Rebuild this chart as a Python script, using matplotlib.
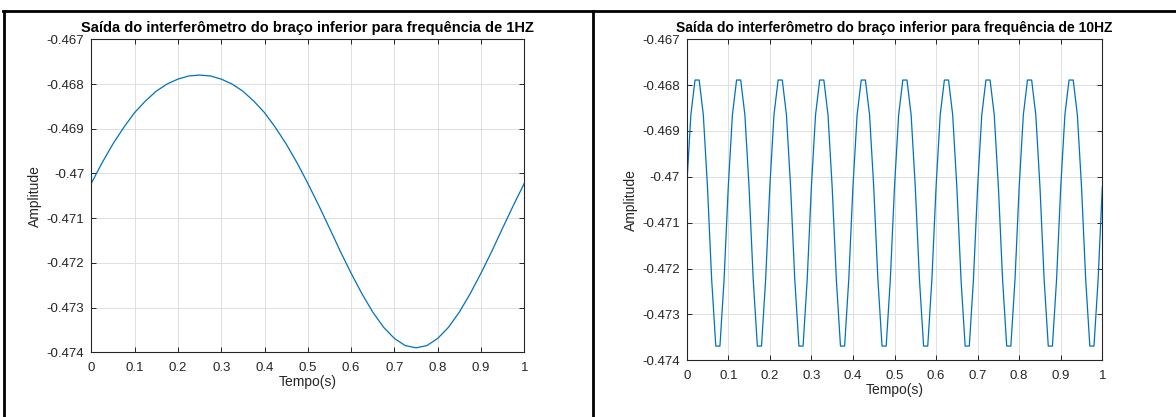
"""Interferometer output of the lower arm at 1 Hz and 10 Hz
"""

import matplotlib
matplotlib.use("Agg")
import matplotlib.pyplot as plt
from matplotlib.lines import Line2D
import numpy as np

# Values
# 1 Hz: one value every 0.025 s
amp_1hz = [
    -0.47022, -0.46976, -0.46934, -0.46897, -0.46864, -0.46838, -0.46816,
    -0.46800, -0.46789, -0.46782, -0.46780, -0.46782, -0.46789, -0.46800,
    -0.46816, -0.46838, -0.46864, -0.46897, -0.46934, -0.46976, -0.47022,
    -0.47071, -0.47122, -0.47174, -0.47223, -0.47269, -0.47310, -0.47344,
    -0.47369, -0.47385, -0.47390, -0.47385, -0.47369, -0.47344, -0.47310,
    -0.47269, -0.47223, -0.47174, -0.47122, -0.47071, -0.47022,
]
# 10 Hz: one value every 0.01 s (coarse sampling gives the flat tops)
amp_10hz = [
    -0.47022, -0.46865, -0.46789, -0.46789, -0.46865, -0.47022, -0.47223, -0.47369, -0.47369, -0.47223,
    -0.47022, -0.46865, -0.46789, -0.46789, -0.46865, -0.47022, -0.47223, -0.47369, -0.47369, -0.47223,
    -0.47022, -0.46865, -0.46789, -0.46789, -0.46865, -0.47022, -0.47223, -0.47369, -0.47369, -0.47223,
    -0.47022, -0.46865, -0.46789, -0.46789, -0.46865, -0.47022, -0.47223, -0.47369, -0.47369, -0.47223,
    -0.47022, -0.46865, -0.46789, -0.46789, -0.46865, -0.47022, -0.47223, -0.47369, -0.47369, -0.47223,
    -0.47022, -0.46865, -0.46789, -0.46789, -0.46865, -0.47022, -0.47223, -0.47369, -0.47369, -0.47223,
    -0.47022, -0.46865, -0.46789, -0.46789, -0.46865, -0.47022, -0.47223, -0.47369, -0.47369, -0.47223,
    -0.47022, -0.46865, -0.46789, -0.46789, -0.46865, -0.47022, -0.47223, -0.47369, -0.47369, -0.47223,
    -0.47022, -0.46865, -0.46789, -0.46789, -0.46865, -0.47022, -0.47223, -0.47369, -0.47369, -0.47223,
    -0.47022, -0.46865, -0.46789, -0.46789, -0.46865, -0.47022, -0.47223, -0.47369, -0.47369, -0.47223,
    -0.47022,
]
# sample times (regular grids over 0..1 s)
time_1hz = np.linspace(0, 1, len(amp_1hz))
time_10hz = np.linspace(0, 1, len(amp_10hz))

titles = [
    "Saída do interferômetro do braço inferior para frequência de 1HZ",
    "Saída do interferômetro do braço inferior para frequência de 10HZ",
]
x_ticks = [0, 0.1, 0.2, 0.3, 0.4, 0.5, 0.6, 0.7, 0.8, 0.9, 1]
x_tick_labels = ["0", "0.1", "0.2", "0.3", "0.4", "0.5", "0.6", "0.7", "0.8", "0.9", "1"]
y_ticks = [-0.474, -0.473, -0.472, -0.471, -0.47, -0.469, -0.468, -0.467]
y_tick_labels = ["-0.474", "-0.473", "-0.472", "-0.471", "-0.47", "-0.469", "-0.468", "-0.467"]

plt.rcParams['font.family'] = ['Liberation Sans', 'DejaVu Sans']

W, H = 1176, 417
fig = plt.figure(figsize=(W / 100, H / 100), dpi=100)


def px_axes(x0, y0, x1, y1):
    """Axes from pixel box (top-left origin)"""
    return fig.add_axes([x0 / W, 1 - y1 / H, (x1 - x0) / W, (y1 - y0) / H])


def style_axes(ax, title, title_size):
    ax.set_xlim(0, 1)
    ax.set_ylim(-0.474, -0.467)
    ax.set_xticks(x_ticks)
    ax.set_xticklabels(x_tick_labels)
    ax.set_yticks(y_ticks)
    ax.set_yticklabels(y_tick_labels)
    ax.tick_params(direction='in', length=3.5, width=0.7, colors='#262626',
                   labelsize=9.5, top=True, right=True)
    ax.tick_params(axis='x', pad=7)
    ax.tick_params(axis='y', pad=5)
    for sp in ax.spines.values():
        sp.set_color('#262626')
        sp.set_linewidth(0.8)
    ax.grid(True, color='#dfdfdf', linewidth=0.7)
    ax.set_axisbelow(True)
    ax.set_title(title, fontsize=title_size, fontweight='bold', pad=5)
    ax.set_xlabel("Tempo(s)", fontsize=10, color='#262626', labelpad=1)
    ax.set_ylabel("Amplitude", fontsize=10, color='#262626', labelpad=3)


ax1 = px_axes(91.3, 39.3, 524.3, 352.3)
ax1.plot(time_1hz, amp_1hz, color='#0072BD', linewidth=0.9)
style_axes(ax1, titles[0], 10.5)

ax2 = px_axes(686.7, 39.2, 1102.3, 360.3)
ax2.plot(time_10hz, amp_10hz, color='#0072BD', linewidth=0.9)
style_axes(ax2, titles[1], 10)

# frame lines around the panels
frame_kw = dict(color='black', linewidth=2.0, transform=fig.transFigure)
fig.add_artist(Line2D([3 / W, 1], [1 - 10.5 / H, 1 - 10.5 / H], **frame_kw))
fig.add_artist(Line2D([4.3 / W, 4.3 / W], [0, 1 - 10.5 / H], **frame_kw))
fig.add_artist(Line2D([593 / W, 593 / W], [0, 1 - 10.5 / H], **frame_kw))

fig.savefig("out.png", dpi=100)
